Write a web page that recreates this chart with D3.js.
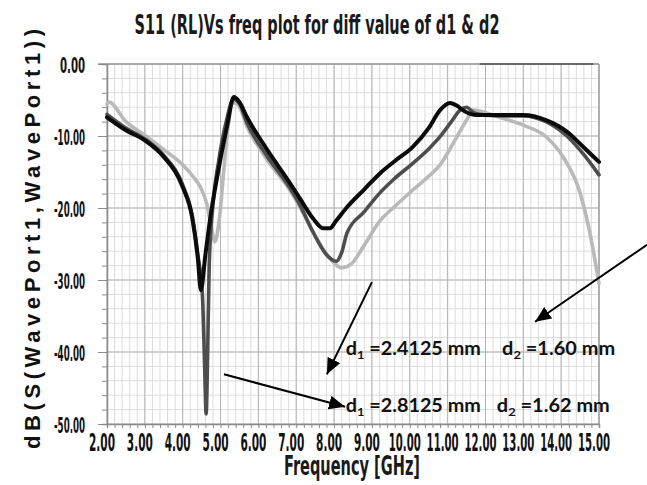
<!DOCTYPE html>
<html>
<head>
<meta charset="utf-8">
<script src="https://cdn.jsdelivr.net/npm/d3@7"></script>
<style>
  body { margin: 0; background: #fff; }
  svg { display: block; }
  .narrow { font-family: "Liberation Sans Narrow", "Arial Narrow", "DejaVu Sans Condensed", sans-serif; font-weight: bold; }
  .note { font-family: Lato, "Open Sans", sans-serif; font-weight: 700; }
</style>
</head>
<body>
<div id="chart"></div>
<script>
const width = 647,
  height = 485,
  margin = { top: 64, right: 48, bottom: 61, left: 107 };
const innerW = width - margin.left - margin.right,
  innerH = height - margin.top - margin.bottom;

// axis ticks
const freqTicks = [2, 3, 4, 5, 6, 7, 8, 9, 10, 11, 12, 13, 14, 15];
const dbTicks = [0, -10, -20, -30, -40, -50];
const freqMinor = d3.range(0, 66).map(i => 2 + i * 0.2);
const dbMinor = d3.range(0, 26).map(i => -i * 2);

// light grey curve
const freqLight = [2.0, 2.05, 2.5, 3.0, 3.5, 4.0, 4.3, 4.46, 4.64, 4.75, 4.85, 4.93, 4.99, 5.07, 5.2, 5.33, 5.45, 5.7, 6.23, 6.83, 7.1, 7.44, 7.89, 8.2, 8.45, 8.77, 9.21, 9.6, 10.08, 10.5, 10.8, 11.15, 11.5, 11.67, 11.9, 12.3, 13.0, 13.6, 14.05, 14.5, 14.76, 15.0];
const dbLight = [-5.6, -5.3, -8.0, -9.9, -11.9, -14.0, -15.8, -17.0, -19.5, -22.5, -24.7, -23.0, -20.5, -15.7, -8.7, -5.4, -5.6, -8.7, -13.3, -17.5, -19.9, -23.3, -27.0, -28.3, -27.8, -25.4, -21.8, -19.8, -17.5, -15.6, -14.0, -11.0, -7.8, -6.4, -6.6, -7.3, -8.5, -10.1, -12.9, -17.9, -23.5, -30.5];

// dark grey curve
const freqDark = [2.0, 2.5, 3.0, 3.5, 4.0, 4.25, 4.4, 4.52, 4.58, 4.62, 4.66, 4.7, 4.8, 4.95, 5.15, 5.35, 5.5, 5.7, 6.23, 6.83, 7.1, 7.44, 7.8, 8.06, 8.2, 8.34, 8.8, 9.21, 9.6, 10.08, 10.5, 10.8, 11.1, 11.33, 11.5, 11.7, 12.0, 12.5, 13.0, 13.6, 14.15, 14.6, 15.0];
const dbDark = [-7.0, -8.9, -10.4, -12.7, -16.8, -21.0, -26.5, -32.0, -42.0, -48.6, -40.0, -28.0, -19.5, -13.5, -8.0, -4.9, -5.5, -8.2, -12.8, -17.2, -19.6, -23.3, -26.5, -27.4, -26.2, -23.5, -20.5, -17.9, -15.9, -13.8, -11.8, -10.1, -8.0, -6.4, -6.0, -6.8, -7.1, -7.2, -7.2, -8.0, -10.0, -12.6, -15.4];

// black curve
const freqBlack = [2.0, 2.5, 3.0, 3.5, 4.0, 4.25, 4.4, 4.48, 4.6, 4.72, 4.91, 5.17, 5.35, 5.5, 5.7, 6.23, 6.83, 7.1, 7.45, 7.71, 7.89, 8.05, 8.34, 8.8, 9.21, 9.6, 10.08, 10.5, 10.8, 11.06, 11.25, 11.4, 11.78, 12.3, 13.0, 13.6, 14.15, 14.58, 15.0];
const dbBlack = [-7.4, -9.2, -10.6, -12.9, -17.1, -21.3, -27.0, -31.4, -26.5, -21.7, -15.7, -8.7, -4.6, -5.3, -7.4, -11.9, -16.5, -18.7, -21.5, -22.8, -22.8, -21.8, -19.9, -17.4, -15.2, -13.5, -11.5, -8.9, -6.4, -5.4, -5.8, -6.4, -7.1, -7.1, -7.1, -7.8, -9.4, -11.5, -13.6];

// annotations (frequency, dB)
const arrows = [
  { from: [9.0, -30.3], to: [7.81, -43.1] },
  { from: [16.27, -25.1], to: [13.31, -35.8] },
  { from: [5.09, -43.1], to: [8.29, -47.6] }
];
const notes = [
  { d1: "2.4125 mm", d2: "1.60 mm", f1: 8.31, f2: 12.44, db: -40.4 },
  { d1: "2.8125 mm", d2: "1.62 mm", f1: 8.31, f2: 12.30, db: -48.3 }
];

const series = [
  { f: freqLight, db: dbLight, color: "#b9b9b9", w: 3.6 },
  { f: freqDark, db: dbDark, color: "#4d4d4d", w: 3.6 },
  { f: freqBlack, db: dbBlack, color: "#0b0b0b", w: 4 }
];

const svg = d3.select("#chart").append("svg")
  .attr("width", width)
  .attr("height", height);

const x = d3.scaleLinear().domain([2, 15]).range([margin.left, margin.left + innerW]);
const y = d3.scaleLinear().domain([-50, 0]).range([margin.top + innerH, margin.top]);

// grid
svg.append("g").selectAll("line")
  .data(freqMinor)
  .join("line")
  .attr("x1", d => x(d)).attr("x2", d => x(d))
  .attr("y1", y(0)).attr("y2", y(-50))
  .attr("stroke", "#dcdcdc");

svg.append("g").selectAll("line")
  .data(dbMinor)
  .join("line")
  .attr("x1", x(2)).attr("x2", x(15))
  .attr("y1", d => y(d)).attr("y2", d => y(d))
  .attr("stroke", "#dcdcdc");

svg.append("g").selectAll("line")
  .data(freqTicks)
  .join("line")
  .attr("x1", d => x(d)).attr("x2", d => x(d))
  .attr("y1", y(0)).attr("y2", y(-50))
  .attr("stroke", "#b3b3b3");

svg.append("g").selectAll("line")
  .data(dbTicks)
  .join("line")
  .attr("x1", x(2)).attr("x2", x(15))
  .attr("y1", d => y(d)).attr("y2", d => y(d))
  .attr("stroke", "#b3b3b3");

// frame
svg.append("line")
  .attr("x1", x(2) - 9).attr("x2", x(15))
  .attr("y1", y(0)).attr("y2", y(0))
  .attr("stroke", "#9a9a9a").attr("stroke-width", 1.5);
svg.append("line")
  .attr("x1", x(15)).attr("x2", x(15))
  .attr("y1", y(0)).attr("y2", y(-50))
  .attr("stroke", "#9a9a9a").attr("stroke-width", 1.2);
svg.append("line")
  .attr("x1", x(11.85)).attr("x2", x(14.85))
  .attr("y1", y(0)).attr("y2", y(0))
  .attr("stroke", "#555").attr("stroke-width", 1.5);

// axes ticks
const xAxis = svg.append("g")
  .attr("transform", `translate(0,${y(-50)})`)
  .call(d3.axisBottom(x).tickValues(freqMinor).tickSize(4).tickFormat(""));
const yAxis = svg.append("g")
  .attr("transform", `translate(${x(2)},0)`)
  .call(d3.axisLeft(y).tickValues(dbMinor).tickSize(5).tickFormat(""));
yAxis.selectAll(".tick line").filter(d => d % 10 === 0).attr("x2", -9);
[xAxis, yAxis].forEach(a => {
  a.select(".domain").attr("stroke", "#8a8a8a").attr("stroke-width", 1.5);
  a.selectAll(".tick line").attr("stroke", "#8a8a8a");
});

// tick labels
svg.append("g").selectAll("text")
  .data(freqTicks)
  .join("text")
  .attr("class", "narrow")
  .attr("text-anchor", "middle")
  .attr("transform", d => `translate(${x(d) - 5},451) scale(1,1.3)`)
  .attr("font-size", 18.5)
  .attr("textLength", d => d >= 10 ? 32 : 26)
  .attr("lengthAdjust", "spacingAndGlyphs")
  .attr("fill", "#111")
  .text(d => d.toFixed(2));

svg.append("g").selectAll("text")
  .data(dbTicks)
  .join("text")
  .attr("class", "narrow")
  .attr("text-anchor", "end")
  .attr("transform", d => `translate(85,${y(d) + 8.5}) scale(1,1.2)`)
  .attr("font-size", 17)
  .attr("textLength", d => d < 0 ? 31 : 25)
  .attr("lengthAdjust", "spacingAndGlyphs")
  .attr("fill", "#111")
  .text(d => d.toFixed(2));

// curves
const line = d3.line()
  .x(d => x(d[0]))
  .y(d => y(d[1]))
  .curve(d3.curveMonotoneX);

svg.append("g").selectAll("path")
  .data(series)
  .join("path")
  .attr("d", s => line(s.f.map((f, i) => [f, s.db[i]])))
  .attr("fill", "none")
  .attr("stroke", s => s.color)
  .attr("stroke-width", s => s.w)
  .attr("stroke-linejoin", "round")
  .attr("stroke-linecap", "round");

// titles
svg.append("text")
  .attr("class", "narrow")
  .attr("x", 317).attr("y", 34)
  .attr("text-anchor", "middle")
  .attr("font-size", 26)
  .attr("textLength", 365)
  .attr("lengthAdjust", "spacingAndGlyphs")
  .attr("fill", "#1a1a1a")
  .text("S11 (RL)Vs freq plot for diff value of d1 & d2");

svg.append("text")
  .attr("class", "narrow")
  .attr("x", 352).attr("y", 475)
  .attr("text-anchor", "middle")
  .attr("font-size", 26)
  .attr("textLength", 136)
  .attr("lengthAdjust", "spacingAndGlyphs")
  .attr("fill", "#1a1a1a")
  .text("Frequency [GHz]");

svg.append("text")
  .attr("transform", "translate(40,239) rotate(-90)")
  .attr("text-anchor", "middle")
  .attr("font-family", "'Liberation Sans', Arial, sans-serif")
  .attr("font-weight", "bold")
  .attr("font-size", 22)
  .attr("textLength", 420)
  .attr("lengthAdjust", "spacing")
  .attr("fill", "#111")
  .text("dB(S(WavePort1,WavePort1))");

// arrows
svg.append("defs").append("marker")
  .attr("id", "head")
  .attr("markerUnits", "userSpaceOnUse")
  .attr("viewBox", "0 0 16 14")
  .attr("refX", 16).attr("refY", 7)
  .attr("markerWidth", 16).attr("markerHeight", 14)
  .attr("orient", "auto")
  .append("path")
  .attr("d", "M0,0L16,7L0,14Z")
  .attr("fill", "#000");

svg.append("g").selectAll("line")
  .data(arrows)
  .join("line")
  .attr("x1", d => x(d.from[0])).attr("y1", d => y(d.from[1]))
  .attr("x2", d => x(d.to[0])).attr("y2", d => y(d.to[1]))
  .attr("stroke", "#000")
  .attr("stroke-width", 2)
  .attr("marker-end", "url(#head)");

// notes
const noteG = svg.append("g").attr("class", "note").attr("fill", "#111").attr("font-size", 18.5);
notes.forEach(n => {
  const t1 = noteG.append("text").attr("x", x(n.f1)).attr("y", y(n.db))
    .attr("textLength", 135).attr("lengthAdjust", "spacingAndGlyphs");
  t1.append("tspan").text("d");
  t1.append("tspan").attr("font-size", 12).attr("dy", 4).text("1");
  t1.append("tspan").attr("dy", -4).text(" =" + n.d1);
  const t2 = noteG.append("text").attr("x", x(n.f2)).attr("y", y(n.db))
    .attr("textLength", 113).attr("lengthAdjust", "spacingAndGlyphs");
  t2.append("tspan").text("d");
  t2.append("tspan").attr("font-size", 12).attr("dy", 4).text("2");
  t2.append("tspan").attr("dy", -4).text(" =" + n.d2);
});
</script>
</body>
</html>
